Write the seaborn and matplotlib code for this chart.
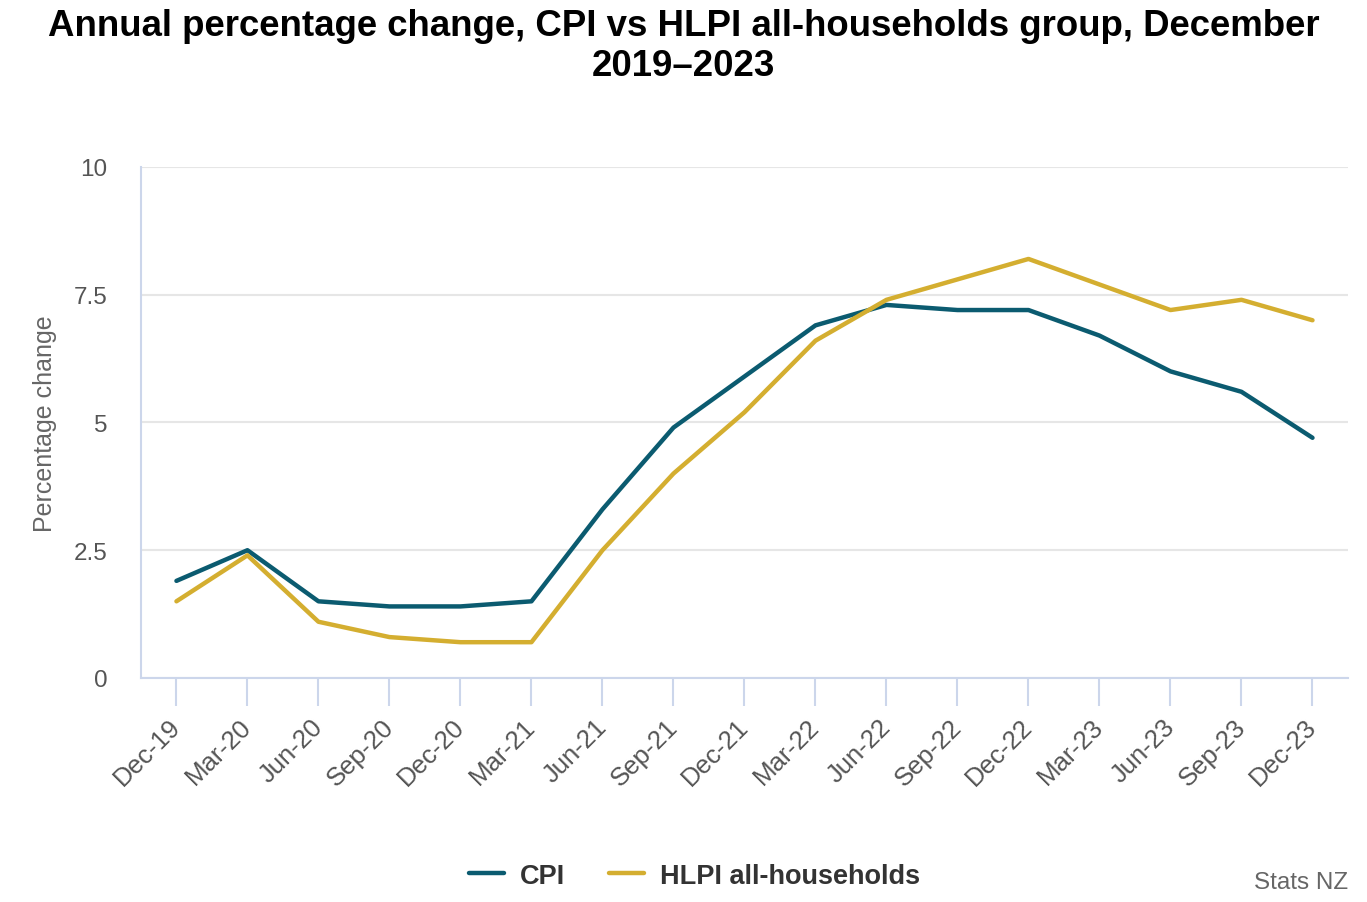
import matplotlib
matplotlib.use("Agg")
import matplotlib.pyplot as plt
import matplotlib.transforms as mtransforms
import pandas as pd
import seaborn as sns

quarters = ["Dec-19", "Mar-20", "Jun-20", "Sep-20", "Dec-20", "Mar-21", "Jun-21",
            "Sep-21", "Dec-21", "Mar-22", "Jun-22", "Sep-22", "Dec-22", "Mar-23",
            "Jun-23", "Sep-23", "Dec-23"]
cpi = [1.9, 2.5, 1.5, 1.4, 1.4, 1.5, 3.3, 4.9, 5.9, 6.9, 7.3, 7.2, 7.2, 6.7, 6.0, 5.6, 4.7]
hlpi = [1.5, 2.4, 1.1, 0.8, 0.7, 0.7, 2.5, 4.0, 5.2, 6.6, 7.4, 7.8, 8.2, 7.7, 7.2, 7.4, 7.0]
series_names = ["CPI", "HLPI all-households"]
colors = ["#0b5b70", "#d4ae30"]

df = pd.DataFrame({"quarter": quarters * 2,
                   "pos": list(range(len(quarters))) * 2,
                   "value": cpi + hlpi,
                   "series": [series_names[0]] * len(quarters) + [series_names[1]] * len(quarters)})

sns.set_style("white")
plt.rcParams["font.family"] = ["Liberation Sans", "DejaVu Sans"]

fig = plt.figure(figsize=(13.67, 9.03), dpi=100)
ax = fig.add_axes([0.1031, 0.2481, 0.883, 0.5659])

sns.lineplot(data=df, x="pos", y="value", hue="series", palette=colors,
             linewidth=3.2, ax=ax, legend=False)

ax.set_xlim(-0.5, len(quarters) - 0.5)
ax.set_ylim(0, 10)
ax.set_yticks([0, 2.5, 5, 7.5, 10])
ax.set_yticklabels(["0", "2.5", "5", "7.5", "10"])
ax.set_xticks(range(len(quarters)))
ax.set_xticklabels(quarters, rotation=45, ha="right", rotation_mode="anchor")

ax.grid(axis="y", color="#e6e6e6", linewidth=1.5)
ax.set_axisbelow(True)
for side in ["top", "right"]:
    ax.spines[side].set_visible(False)
ax.spines["left"].set_color("#ccd6eb")
ax.spines["bottom"].set_color("#ccd6eb")
ax.spines["left"].set_linewidth(1.5)
ax.spines["bottom"].set_linewidth(1.5)

ax.tick_params(axis="x", length=20, width=1.5, color="#ccd6eb", labelsize=18.5,
               labelcolor="#555555", pad=6, bottom=True)
ax.tick_params(axis="y", length=0, labelsize=17.5, labelcolor="#555555", pad=24)

# nudge rotated labels so their end sits under the tick (after tick_params, which resets transforms)
shift = mtransforms.ScaledTranslation(-8 / 100, 0, fig.dpi_scale_trans)
for lbl in ax.get_xticklabels():
    lbl.set_transform(lbl.get_transform() + shift)

ax.set_xlabel("")
ax.set_ylabel("Percentage change", fontsize=18, color="#666666", labelpad=12)

fig.suptitle("Annual percentage change, CPI vs HLPI all-households group, December\n2019\u20132023",
             fontsize=26.4, fontweight="bold", y=0.99, linespacing=1.2, color="black")

handles = [plt.Line2D([], [], color=c, linewidth=3.2) for c in colors]
fig.legend(handles, series_names, loc="center", bbox_to_anchor=(0.508, 0.029),
           ncol=2, frameon=False, handlelength=1.3, handletextpad=0.6, columnspacing=1.6,
           prop={"size": 19.5, "weight": "bold"}, labelcolor="#333333")

fig.text(0.986, 0.022, "Stats NZ", ha="right", va="center", fontsize=17.5, color="#666666")

fig.savefig("out.png", dpi=100)
